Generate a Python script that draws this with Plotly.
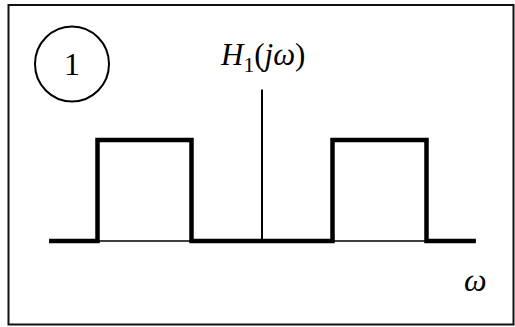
import plotly.graph_objects as go

# Frequency response H1(jw): two ideal band-pass blocks, symmetric about w = 0
omega = [-4.53, -3.5, -3.5, -1.5, -1.5, 1.5, 1.5, 3.5, 3.5, 4.55]
H1 = [0, 0, 1, 1, 0, 0, 1, 1, 0, 0]

# Axes drawn as plain lines
axis_w = [-4.53, 4.55]
axis_h = [0, 0]
vert_w = [0, 0]
vert_h = [0, 1.5]

fig = go.Figure()

# thin frequency axis underneath
fig.add_trace(go.Scatter(x=axis_w, y=axis_h, mode="lines",
                         line=dict(color="black", width=1.5), hoverinfo="skip"))
# thin vertical axis
fig.add_trace(go.Scatter(x=vert_w, y=vert_h, mode="lines",
                         line=dict(color="black", width=2), hoverinfo="skip"))
# the response itself
fig.add_trace(go.Scatter(x=omega, y=H1, mode="lines",
                         line=dict(color="black", width=4.5, shape="linear"),
                         hoverinfo="skip"))

W, H = 515, 327
x_origin, px_per_x = 262, 47.0
y_origin, px_per_y = 241, 101.0

fig.update_layout(
    width=W, height=H,
    margin=dict(l=0, r=0, t=0, b=0),
    paper_bgcolor="white", plot_bgcolor="white",
    showlegend=False,
    xaxis=dict(range=[(0 - x_origin) / px_per_x, (W - x_origin) / px_per_x],
               visible=False, fixedrange=True),
    yaxis=dict(range=[(y_origin - H) / px_per_y, (y_origin - 0) / px_per_y],
               visible=False, fixedrange=True),
)

# outer frame
fig.add_shape(type="rect", xref="paper", yref="paper",
              x0=8.5 / W, x1=513.5 / W, y0=1 - 324.5 / H, y1=1 - 5 / H,
              line=dict(color="#111111", width=2), fillcolor="rgba(0,0,0,0)")

# circled panel number
cx = (72 - x_origin) / px_per_x
cy = (y_origin - 64) / px_per_y
fig.add_shape(type="circle", xref="x", yref="y",
              xsizemode="pixel", ysizemode="pixel",
              xanchor=cx, yanchor=cy, x0=-37, x1=37, y0=-37.5, y1=37.5,
              line=dict(color="black", width=2))
fig.add_annotation(x=cx, y=cy, text="1", showarrow=False,
                   font=dict(family="Liberation Serif", size=32, color="black"),
                   xanchor="center", yanchor="middle")

# axis labels
fig.add_annotation(x=0, y=(y_origin - 57) / px_per_y,
                   text="<i>H</i><sub>1</sub>(<i>jω</i>)", showarrow=False,
                   font=dict(family="Liberation Serif", size=31, color="black"),
                   xanchor="center", yanchor="middle")
fig.add_annotation(x=(475 - x_origin) / px_per_x, y=(y_origin - 280) / px_per_y,
                   text="<i>ω</i>", showarrow=False,
                   font=dict(family="Liberation Serif", size=32, color="black"),
                   xanchor="center", yanchor="middle")

fig.write_html("out.html")
